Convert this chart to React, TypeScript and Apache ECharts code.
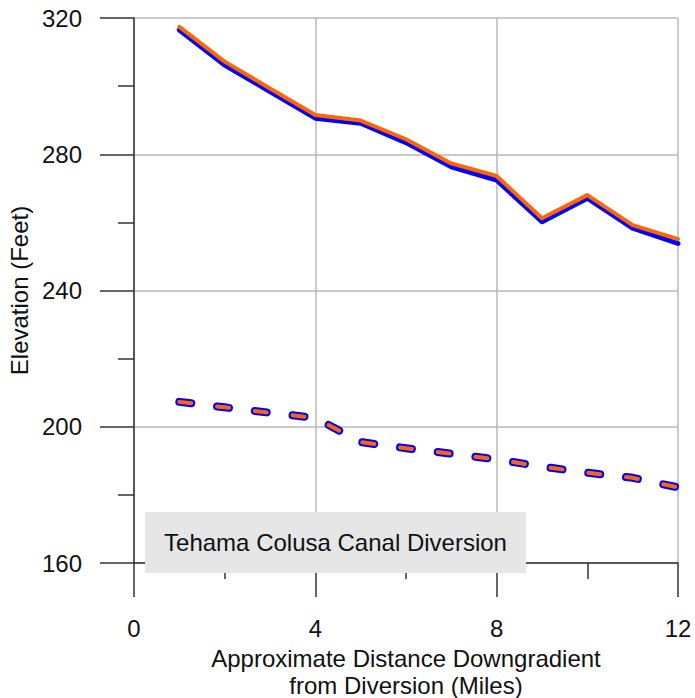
import React, { useEffect, useRef } from "react";
import * as echarts from "echarts";

const distances = [1, 2, 3, 4, 5, 6, 7, 8, 9, 10, 11, 12];
const blueSolid = [316.5, 306.2, 298.4, 290.6, 289.1, 283.4, 276.3, 272.4, 260.2, 267.1, 258.3, 253.8];
const orangeSolid = [317.4, 307.2, 299.3, 291.5, 289.9, 284.4, 277.3, 273.6, 261.2, 268.0, 259.2, 255.1];
const blueDashed = [207.3, 205.7, 204.1, 202.6, 195.5, 193.7, 192.1, 190.4, 188.3, 186.5, 185.0, 182.2];
const orangeDashed = [207.3, 205.7, 204.1, 202.6, 195.5, 193.7, 192.1, 190.4, 188.3, 186.5, 185.0, 182.2];
const boxLabel = "Tehama Colusa Canal Diversion";
const xTitle = "Approximate Distance Downgradient\nfrom Diversion (Miles)";
const yTitle = "Elevation (Feet)";

const FONT = "'Liberation Sans', Arial, sans-serif";
const AXIS = "#333333";
const GRID = "#b8b8b8";
const TEXT = "#111111";

function pairs(ys: number[]) {
  return distances.map((x, i) => [x, ys[i]]);
}

export default function App() {
  const ref = useRef<HTMLDivElement>(null);
  useEffect(() => {
    if (!ref.current) return;
    const chart = echarts.init(ref.current, null, { renderer: "svg" });
    const axisCommon = {
      type: "value" as const,
      axisLine: { show: true, onZero: false, lineStyle: { color: AXIS, width: 1.5 } },
      axisTick: { show: true, length: 34, lineStyle: { color: AXIS, width: 1.5 } },
      minorTick: { show: true, splitNumber: 2, length: 16, lineStyle: { color: AXIS, width: 1.5 } },
      splitLine: { show: true, lineStyle: { color: GRID, width: 1.5 } },
      nameLocation: "middle" as const,
    };
    chart.setOption({
      animation: false,
      grid: { left: 134, right: 17, top: 18, bottom: 135, containLabel: false, outerBoundsMode: "none" },
      xAxis: {
        ...axisCommon,
        min: 0,
        max: 12,
        interval: 4,
        axisLabel: { margin: 53, fontSize: 24, color: TEXT, fontFamily: FONT },
        name: xTitle,
        nameGap: 79,
        nameTextStyle: { fontSize: 24, lineHeight: 27, color: TEXT, fontFamily: FONT },
      },
      yAxis: {
        ...axisCommon,
        min: 160,
        max: 320,
        interval: 40,
        axisLabel: { margin: 52, fontSize: 24, color: TEXT, fontFamily: FONT },
        name: yTitle,
        nameGap: 100,
        nameTextStyle: { fontSize: 24, color: TEXT, fontFamily: FONT },
      },
      series: [
        {
          type: "line",
          data: pairs(blueSolid),
          showSymbol: false,
          lineStyle: { color: "#0000ff", width: 5, cap: "round", join: "round" },
          z: 3,
        },
        {
          type: "line",
          data: pairs(orangeSolid),
          showSymbol: false,
          lineStyle: { color: "#ff6600", width: 4, cap: "round", join: "round" },
          z: 4,
        },
        {
          type: "line",
          data: pairs(blueDashed),
          showSymbol: false,
          lineStyle: { color: "#0000ff", width: 8, type: [12, 26], cap: "round", join: "round" },
          z: 3,
        },
        {
          type: "line",
          data: pairs(orangeDashed),
          showSymbol: false,
          lineStyle: { color: "#ff6600", width: 4, type: [12, 26], cap: "round", join: "round" },
          z: 4,
        },
      ],
      graphic: [
        {
          type: "rect",
          z: 100,
          shape: { x: 145, y: 512, width: 381, height: 61 },
          style: { fill: "#e6e6e6" },
        },
        {
          type: "text",
          z: 101,
          x: 335.5,
          y: 542.5,
          style: {
            text: boxLabel,
            fontSize: 24,
            fontFamily: FONT,
            fill: TEXT,
            align: "center",
            verticalAlign: "middle",
          },
        },
      ],
    });
    return () => chart.dispose();
  }, []);
  return (
    <div
      ref={ref}
      style={{ position: "fixed", left: 0, top: 0, width: 695, height: 698, background: "#fff" }}
    />
  );
}
